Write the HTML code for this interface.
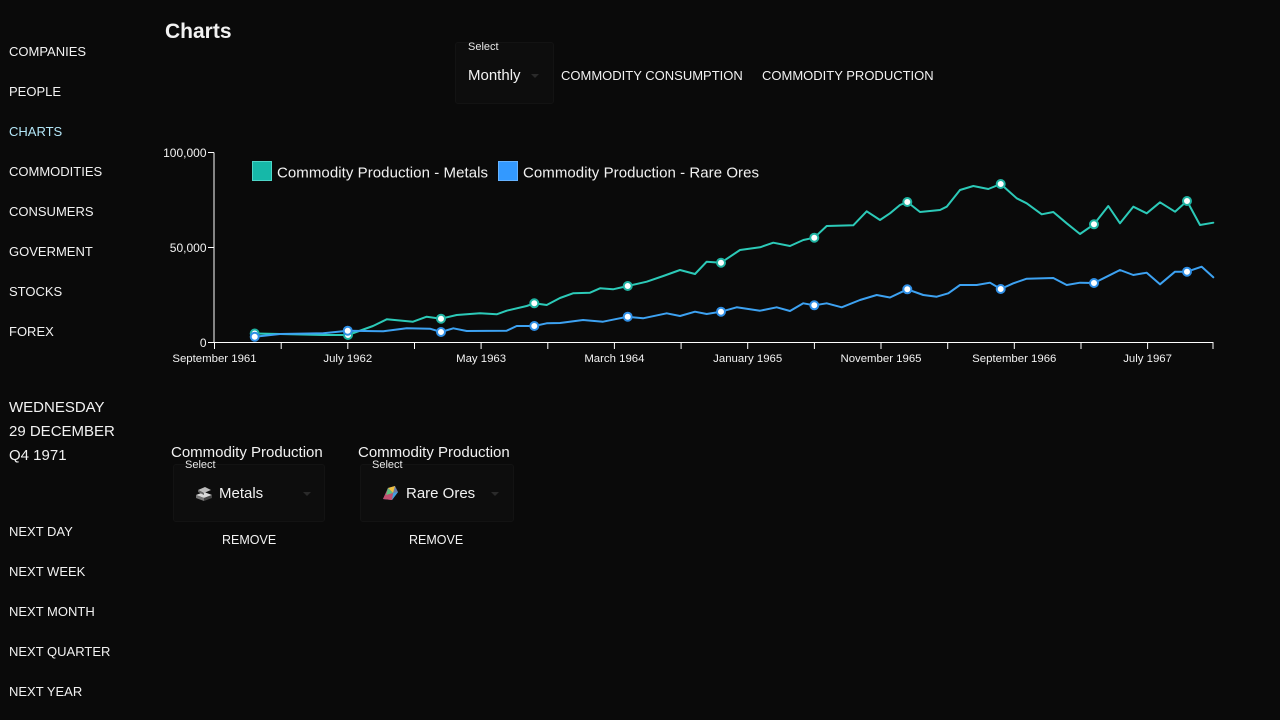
<!DOCTYPE html>
<html>
<head>
<meta charset="utf-8">
<style>
  html,body{margin:0;padding:0;}
  body{width:1280px;height:720px;background:#0a0a0a;position:relative;overflow:hidden;
       font-family:"Liberation Sans",sans-serif;color:#f2f2f2;}
  .a{position:absolute;white-space:nowrap;}
  .nav{font-size:13px;line-height:16px;left:9px;}
  .date{font-size:15px;line-height:18px;left:9px;}
  .box{position:absolute;background:#0d0d0d;border:1px solid #131313;border-radius:3px;}
  .lbl{font-size:11px;line-height:12px;color:#e8e8e8;}
  .caret{position:absolute;width:0;height:0;border-left:4px solid transparent;border-right:4px solid transparent;border-top:4px solid #2a2a2a;}
</style>
</head>
<body>

<!-- sidebar -->
<div class="a nav" style="top:44px;">COMPANIES</div>
<div class="a nav" style="top:84px;">PEOPLE</div>
<div class="a nav" style="top:124px;color:#b3e6f7;">CHARTS</div>
<div class="a nav" style="top:164px;">COMMODITIES</div>
<div class="a nav" style="top:204px;">CONSUMERS</div>
<div class="a nav" style="top:244px;">GOVERMENT</div>
<div class="a nav" style="top:284px;">STOCKS</div>
<div class="a nav" style="top:324px;">FOREX</div>

<div class="a date" style="top:399px;">WEDNESDAY</div>
<div class="a date" style="top:423px;">29 DECEMBER</div>
<div class="a date" style="top:447px;">Q4 1971</div>

<div class="a nav" style="top:524px;">NEXT DAY</div>
<div class="a nav" style="top:564px;">NEXT WEEK</div>
<div class="a nav" style="top:604px;">NEXT MONTH</div>
<div class="a nav" style="top:644px;">NEXT QUARTER</div>
<div class="a nav" style="top:684px;">NEXT YEAR</div>

<!-- title -->
<div class="a" style="left:165px;top:19px;font-size:21px;line-height:26px;font-weight:bold;">Charts</div>

<!-- top select -->
<div class="box" style="left:455px;top:42px;width:97px;height:60px;"></div>
<div class="a lbl" style="left:468px;top:41px;">Select</div>
<div class="a" style="left:468px;top:67px;font-size:15px;line-height:18px;">Monthly</div>
<div class="caret" style="left:531px;top:74px;"></div>
<div class="a nav" style="left:561px;top:68px;">COMMODITY CONSUMPTION</div>
<div class="a nav" style="left:762px;top:68px;">COMMODITY PRODUCTION</div>

<!-- chart -->
<svg class="a" style="left:0;top:0;" width="1280" height="720" viewBox="0 0 1280 720">
  <g font-family="Liberation Sans, sans-serif" fill="#f2f2f2">
    <!-- y axis -->
    <line x1="214" y1="152.5" x2="214" y2="343" stroke="#fff" stroke-width="1"/>
    <line x1="208" y1="152.5" x2="214" y2="152.5" stroke="#fff"/>
    <line x1="208" y1="247.5" x2="214" y2="247.5" stroke="#fff"/>
    <line x1="208" y1="342.5" x2="214" y2="342.5" stroke="#fff"/>
    <g font-size="12" text-anchor="end">
      <text x="206.5" y="157">100,000</text>
      <text x="206.5" y="252">50,000</text>
      <text x="206.5" y="347">0</text>
    </g>
    <!-- x axis -->
    <line x1="214" y1="342.5" x2="1213.5" y2="342.5" stroke="#fff" stroke-width="1"/>
    <g stroke="#fff" stroke-width="1">
      <line x1="214.5" y1="342" x2="214.5" y2="349"/>
      <line x1="281.2" y1="342" x2="281.2" y2="349"/>
      <line x1="347.8" y1="342" x2="347.8" y2="349"/>
      <line x1="414.5" y1="342" x2="414.5" y2="349"/>
      <line x1="481.1" y1="342" x2="481.1" y2="349"/>
      <line x1="547.8" y1="342" x2="547.8" y2="349"/>
      <line x1="614.4" y1="342" x2="614.4" y2="349"/>
      <line x1="681.1" y1="342" x2="681.1" y2="349"/>
      <line x1="747.7" y1="342" x2="747.7" y2="349"/>
      <line x1="814.4" y1="342" x2="814.4" y2="349"/>
      <line x1="881" y1="342" x2="881" y2="349"/>
      <line x1="947.7" y1="342" x2="947.7" y2="349"/>
      <line x1="1014.3" y1="342" x2="1014.3" y2="349"/>
      <line x1="1081" y1="342" x2="1081" y2="349"/>
      <line x1="1147.6" y1="342" x2="1147.6" y2="349"/>
      <line x1="1213" y1="342" x2="1213" y2="349"/>
    </g>
    <g text-anchor="middle" font-size="11.4">
      <text x="214.5" y="362">September 1961</text>
      <text x="347.8" y="362">July 1962</text>
      <text x="481.1" y="362">May 1963</text>
      <text x="614.4" y="362">March 1964</text>
      <text x="747.7" y="362">January 1965</text>
      <text x="881" y="362">November 1965</text>
      <text x="1014.3" y="362">September 1966</text>
      <text x="1147.6" y="362">July 1967</text>
    </g>
  </g>

  <!-- legend -->
  <rect x="252.5" y="161.5" width="19" height="19" fill="#16b8a8" stroke="#4fd6c8" stroke-width="1"/>
  <text x="277" y="177.5" font-family="Liberation Sans, sans-serif" font-size="15" fill="#f2f2f2" textLength="211">Commodity Production - Metals</text>
  <rect x="498.5" y="161.5" width="19" height="19" fill="#3399ff" stroke="#66b3ff" stroke-width="1"/>
  <text x="523" y="177.5" font-family="Liberation Sans, sans-serif" font-size="15" fill="#f2f2f2" textLength="236">Commodity Production - Rare Ores</text>

  <!-- Metals series -->
  <polyline fill="none" stroke="#2ccab8" stroke-width="2" stroke-linejoin="round" stroke-linecap="round"
    points="254.7,333.5 280,334 323,335 348,335 373,326 386.7,319.3 413,321.7 426.7,316.7 441,318.7 456.7,315 480,313.3 496.7,314.3 506.7,310.7 526.7,306 534.3,303.3 546.7,305 560,298 573,293.3 590,292.7 600,288.3 613,289.3 627.7,286 646.7,281.7 663.3,276 680,270 695,274 706.7,261.7 721,262.7 740,250 760,247.3 773.3,242.7 790,246 803.3,240 814.3,237.7 826.7,226 853.3,225.3 866.7,211.3 880,220 890,213.3 900,205 907.3,202 920,212 940,210 946.7,206.7 960,190 973.3,186 988.3,189 1000.7,184 1016.7,198.3 1026.7,203.3 1041.7,214.3 1053.3,212 1066.7,223.3 1080,234 1094,224.3 1108.3,206 1120,223.3 1133.3,206.7 1146.7,213.3 1160,202.3 1175,211.7 1187,201 1200,225 1213.3,222.7"/>
  <g fill="#fff" stroke="#1fb3a2" stroke-width="2">
    <circle cx="254.7" cy="333.5" r="4"/>
    <circle cx="348" cy="335" r="4"/>
    <circle cx="441" cy="318.7" r="4"/>
    <circle cx="534.3" cy="303.3" r="4"/>
    <circle cx="627.7" cy="286" r="4"/>
    <circle cx="721" cy="262.7" r="4"/>
    <circle cx="814.3" cy="237.7" r="4"/>
    <circle cx="907.3" cy="202" r="4"/>
    <circle cx="1000.7" cy="184" r="4"/>
    <circle cx="1094" cy="224.3" r="4"/>
    <circle cx="1187" cy="201" r="4"/>
  </g>

  <!-- Rare Ores series -->
  <polyline fill="none" stroke="#3da2f2" stroke-width="2" stroke-linejoin="round" stroke-linecap="round"
    points="254.7,336.7 280,334 323.3,333.3 347.7,330.7 383.3,331.3 406.7,328.3 430,328.7 441,332 453.3,328.3 466.7,331 506.7,330.7 516.7,326 534.3,326 546.7,323.3 560,323 583,320 603,321.7 627.7,316.7 643,318.3 666.7,313.3 680,316 695,311.7 706.7,314 721,311.7 736.7,307.3 760,310.7 776.7,307.3 790,311 803.3,303.3 814.3,305.3 826.7,303.3 841.7,307.3 860,300 876.7,295 890,297.5 907.3,289.3 923.3,295 936.7,296.7 948.3,293.3 960,285 976.7,285 990,282.7 1000.7,289 1013.3,283.3 1026.7,278.7 1053.3,278 1066.7,285 1080,282.7 1094,283 1106.7,276.7 1120,270 1133.3,275 1146.7,272.7 1160,284.3 1175,271.7 1187,271.7 1201.7,266.7 1213.3,277.3"/>
  <g fill="#fff" stroke="#2f8fe6" stroke-width="2">
    <circle cx="254.7" cy="336.7" r="4"/>
    <circle cx="347.7" cy="330.7" r="4"/>
    <circle cx="441" cy="332" r="4"/>
    <circle cx="534.3" cy="326" r="4"/>
    <circle cx="627.7" cy="316.7" r="4"/>
    <circle cx="721" cy="311.7" r="4"/>
    <circle cx="814.3" cy="305.3" r="4"/>
    <circle cx="907.3" cy="289.3" r="4"/>
    <circle cx="1000.7" cy="289" r="4"/>
    <circle cx="1094" cy="283" r="4"/>
    <circle cx="1187" cy="271.7" r="4"/>
  </g>
</svg>

<!-- bottom cards -->
<div class="a" style="left:171px;top:444px;font-size:15px;line-height:18px;">Commodity Production</div>
<div class="box" style="left:173px;top:464px;width:150px;height:56px;"></div>
<div class="a lbl" style="left:185px;top:459px;">Select</div>
<svg class="a" style="left:194px;top:485px;" width="20" height="18" viewBox="0 0 20 18">
  <polygon points="2,10 10,7 18,10 10,13" fill="#d8d8d8"/>
  <polygon points="2,10 10,13 10,16 2,13" fill="#777"/>
  <polygon points="10,13 18,10 18,13 10,16" fill="#444"/>
  <polygon points="4,5 11,2 17,5 10,8" fill="#bbb"/>
  <polygon points="4,5 10,8 10,10 4,7" fill="#666"/>
</svg>
<div class="a" style="left:219px;top:485px;font-size:15px;line-height:18px;">Metals</div>
<div class="caret" style="left:303px;top:492px;"></div>
<div class="a" style="left:222px;top:533px;font-size:12.5px;line-height:15px;">REMOVE</div>

<div class="a" style="left:358px;top:444px;font-size:15px;line-height:18px;">Commodity Production</div>
<div class="box" style="left:360px;top:464px;width:152px;height:56px;"></div>
<div class="a lbl" style="left:372px;top:459px;">Select</div>
<svg class="a" style="left:380px;top:484px;" width="20" height="18" viewBox="0 0 20 18">
  <polygon points="3,15 8,4 15,2 18,8 12,16" fill="#6a7ea8"/>
  <polygon points="8,4 15,2 13,9" fill="#f0c040"/>
  <polygon points="13,9 18,8 12,16" fill="#40a0e0"/>
  <polygon points="3,15 8,4 13,9 12,16" fill="#c05070"/>
  <polygon points="8,4 13,9 6,11" fill="#60c080"/>
</svg>
<div class="a" style="left:406px;top:485px;font-size:15px;line-height:18px;">Rare Ores</div>
<div class="caret" style="left:491px;top:492px;"></div>
<div class="a" style="left:409px;top:533px;font-size:12.5px;line-height:15px;">REMOVE</div>

</body>
</html>
